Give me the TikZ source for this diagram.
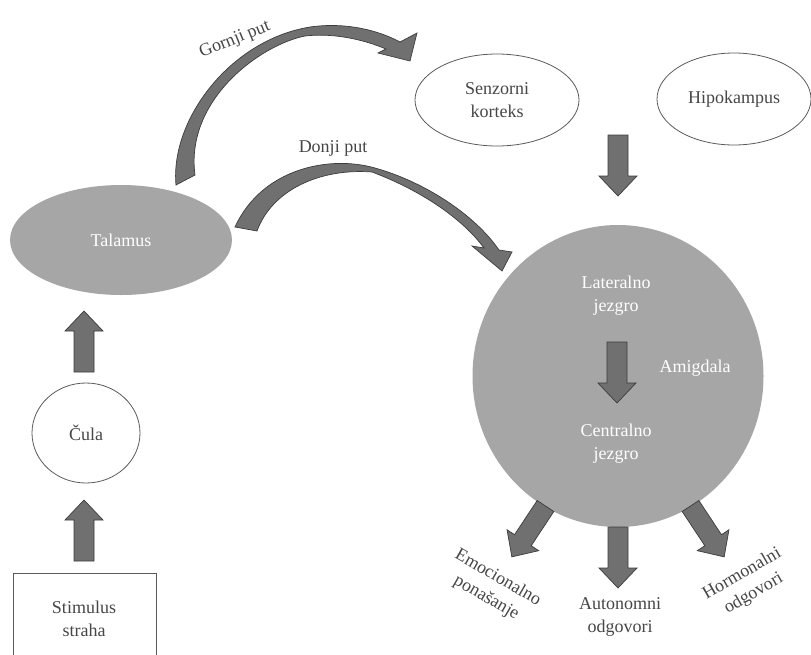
\documentclass[tikz,border=0pt]{standalone}
\usepackage{fontspec}
\setmainfont{Liberation Serif}
\newfontfamily\timesfam{Liberation Serif}
\usetikzlibrary{shapes.geometric}
\definecolor{arrowfill}{RGB}{112,112,112}
\definecolor{arrowline}{RGB}{60,60,60}
\definecolor{blobfill}{RGB}{166,166,166}
\definecolor{txtgray}{RGB}{70,70,70}
\definecolor{outlinegray}{RGB}{90,90,90}
\newcommand\blockarr[2]{%
  \draw[barrow, shift={(#1)}, rotate=#2] (0,-10) -- (41,-10) -- (41,-19) -- (61,0) -- (41,19) -- (41,10) -- (0,10) -- cycle;}
\begin{document}
\begin{tikzpicture}[x=1pt,y=-1pt,
  every node/.style={font=\timesfam\fontsize{18}{23}\selectfont, align=center, text=txtgray},
  blob/.style={ellipse, fill=blobfill, text=white, inner sep=0},
  oval/.style={ellipse, draw=outlinegray, line width=0.8pt, inner sep=0},
  barrow/.style={fill=arrowfill, draw=arrowline, line width=0.7pt, line join=miter}]
\useasboundingbox (0,0) rectangle (811,654);
\clip (0,0) rectangle (811,654);

% main shapes
\node[blob, minimum width=222, minimum height=110] (tal) at (121,240) {Talamus};
\node[oval, minimum width=108, minimum height=100] (cula) at (86,433) {Čula};
\node[draw=outlinegray, line width=0.8pt, minimum width=143, minimum height=110, anchor=north west, inner sep=0] (stim) at (13,573) {};
\node (stimtxt) at (84,619) {Stimulus\\straha};
\node[oval, minimum width=164, minimum height=92] (sk) at (497,100) {Senzorni\\korteks};
\node[oval, minimum width=154, minimum height=92] (hip) at (734,99) {Hipokampus};
\node[blob, minimum width=291, minimum height=302] (amy) at (618,376) {};
\node[text=white] (lat) at (616,296) {Lateralno\\jezgro};
\node[text=white] (amg) at (695,368) {Amigdala};
\node[text=white] (cen) at (616,444) {Centralno\\jezgro};

% labels
\node (aut) at (620,617) {Autonomni\\odgovori};
\node[rotate=-30] (emo) at (492,588) {Emocionalno\\ponašanje};
\node[rotate=30] (hor) at (748,584) {Hormonalni\\odgovori};
\node[rotate=22] (gp) at (235,40) {Gornji put};
\node (dp) at (333,148) {Donji put};

% block arrows
\coordinate (a1) at (84,561);
\coordinate (a2) at (84,372);
\coordinate (a3) at (618,135);
\coordinate (a4) at (617,342);
\coordinate (a5) at (618,527);
\coordinate (a6) at (545.5,506);
\coordinate (a7) at (690.5,506);
\blockarr{a1}{90}
\blockarr{a2}{90}
\blockarr{a3}{-90}
\blockarr{a4}{-90}
\blockarr{a5}{-90}
\blockarr{a6}{-123.5}
\blockarr{a7}{-56.5}

% curved arrows
\draw[barrow] (176,185) .. controls (170,120) and (230,40) .. (310,27)
  .. controls (345,22) and (378,30) .. (400,42) -- (417,33) -- (410,61) -- (378,53) -- (386,49)
  .. controls (360,38) and (330,33) .. (305,36)
  .. controls (260,45) and (185,100) .. (195,175) -- cycle;
\draw[barrow] (235,227) .. controls (262,168) and (330,155) .. (375,168)
  .. controls (425,182) and (475,215) .. (499,250) -- (512,252) -- (502,271) -- (472,246) -- (484,248)
  .. controls (462,218) and (420,190) .. (372,172)
  .. controls (320,168) and (272,190) .. (257,231) -- cycle;
\end{tikzpicture}
\end{document}
